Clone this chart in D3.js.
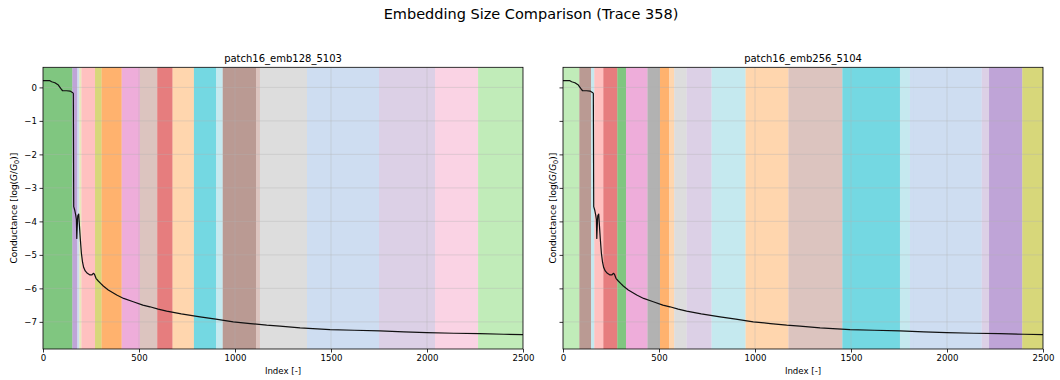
<!DOCTYPE html>
<html><head><meta charset="utf-8">
<script src="https://cdn.jsdelivr.net/npm/d3@7"></script>
<style>body{margin:0;background:#fff}svg{display:block;font-family:"DejaVu Sans",sans-serif}</style>
</head><body><svg id="chart" width="1060" height="380"></svg>
<script>
// ---------- data ----------
const suptitle = "Embedding Size Comparison (Trace 358)";
const panelTitles = ["patch16_emb128_5103", "patch16_emb256_5104"];
const xTicks = [0, 500, 1000, 1500, 2000, 2500];
const yTicks = [0, -1, -2, -3, -4, -5, -6, -7];
const traceIdx = [0,36,45,62,80,92,102,123,141,153,158,160,165,170,174,176,178,181,186,189,194,200,206,212,220,231,245,255,262,268,276,288,300,314,340,384,420,470,520,557,600,644,720,818,900,991,1080,1165,1234,1339,1495,1620,1755,1880,1998,2140,2276,2400,2500];
const traceVal = [0.2,0.2,0.17,0.14,0.07,-0.03,-0.1,-0.1,-0.11,-0.15,-0.18,-3.56,-3.66,-3.8,-3.95,-4.51,-4.2,-3.83,-3.78,-4.06,-4.5,-4.95,-5.22,-5.38,-5.48,-5.55,-5.6,-5.6,-5.55,-5.58,-5.7,-5.78,-5.85,-5.93,-6.05,-6.2,-6.3,-6.4,-6.5,-6.55,-6.62,-6.68,-6.76,-6.85,-6.92,-7.0,-7.05,-7.1,-7.13,-7.18,-7.23,-7.25,-7.27,-7.3,-7.32,-7.34,-7.35,-7.37,-7.38];
// segment class bands (start, end, class id)
const leftBandStart = [0,153,179,189,200,271,305,410,505,595,675,786,901,936,1110,1130,1375,1750,2042,2266];
const leftBandEnd   = [153,179,189,200,271,305,410,505,595,675,786,901,936,1110,1130,1375,1750,2042,2266,2500];
const leftBandClass = [4,8,1,17,7,16,2,12,11,6,3,18,19,10,11,15,1,9,13,5];
const rightBandStart = [0,85,146,163,210,283,328,440,505,553,579,644,774,951,1174,1455,1755,1807,1828,2181,2219,2392];
const rightBandEnd   = [85,146,163,210,283,328,440,505,553,579,644,774,951,1174,1455,1755,1807,1828,2181,2219,2392,2500];
const rightBandClass = [5,10,19,7,6,4,12,14,2,3,15,9,19,3,11,18,19,1,1,9,8,16];
const classColors = ["#1f77b4","#aec7e8","#ff7f0e","#ffbb78","#2ca02c","#98df8a","#d62728","#ff9896","#9467bd","#c5b0d5","#8c564b","#c49c94","#e377c2","#f7b6d2","#7f7f7f","#c7c7c7","#bcbd22","#dbdb8d","#17becf","#9edae5"];

// ---------- drawing ----------
const svg = d3.select("#chart");
const trace = traceIdx.map((x, i) => ({x, y: traceVal[i]}));
const panels = [
  {left: 43, title: panelTitles[0], bands: leftBandStart.map((s,i)=>({s, e: leftBandEnd[i], c: leftBandClass[i]})), showY: true, labelOff: 29},
  {left: 563, title: panelTitles[1], bands: rightBandStart.map((s,i)=>({s, e: rightBandEnd[i], c: rightBandClass[i]})), showY: false, labelOff: 10}
];
const plotTop = 67.3, plotBottom = 349, pw = 480;

svg.append("text").attr("x", 531).attr("y", 19).attr("text-anchor","middle")
  .attr("font-size", 14.5).attr("fill","#000").text(suptitle);

panels.forEach((p, pi) => {
  const x = d3.scaleLinear().domain([0, 2500]).range([p.left, p.left + pw]);
  const y = d3.scaleLinear().domain([-7.81, 0.6]).range([plotBottom, plotTop]);
  const g = svg.append("g");
  const cid = "clip" + pi;
  svg.append("clipPath").attr("id", cid).append("rect")
    .attr("x", p.left).attr("y", plotTop).attr("width", pw).attr("height", plotBottom - plotTop);
  const inner = g.append("g").attr("clip-path", `url(#${cid})`);
  inner.selectAll("rect.band").data(p.bands).join("rect").attr("class","band")
    .attr("x", d => x(d.s)).attr("width", d => x(d.e) - x(d.s))
    .attr("y", plotTop).attr("height", plotBottom - plotTop)
    .attr("fill", d => classColors[d.c]).attr("fill-opacity", 0.6);
  // grid
  inner.selectAll("line.gx").data(xTicks).join("line").attr("class","gx")
    .attr("x1", d => x(d)).attr("x2", d => x(d)).attr("y1", plotTop).attr("y2", plotBottom)
    .attr("stroke", "#b0b0b0").attr("stroke-opacity", 0.45).attr("stroke-width", 0.8);
  inner.selectAll("line.gy").data(yTicks).join("line").attr("class","gy")
    .attr("y1", d => y(d)).attr("y2", d => y(d)).attr("x1", p.left).attr("x2", p.left + pw)
    .attr("stroke", "#b0b0b0").attr("stroke-opacity", 0.45).attr("stroke-width", 0.8);
  // trace
  inner.append("path").datum(trace)
    .attr("d", d3.line().x(d => x(d.x)).y(d => y(d.y)))
    .attr("fill","none").attr("stroke","#111").attr("stroke-width", 1.2).attr("stroke-linejoin","round");
  // axes
  const xa = g.append("g").attr("transform", `translate(0,${plotBottom})`)
    .call(d3.axisBottom(x).tickValues(xTicks).tickFormat(d3.format("d")).tickSize(3.5).tickPadding(2.5));
  const ya = g.append("g").attr("transform", `translate(${p.left},0)`)
    .call(d3.axisLeft(y).tickValues(yTicks).tickSize(3.5).tickPadding(2.5)
      .tickFormat(p.showY ? (d => d < 0 ? "\u2212" + Math.abs(d) : String(d)) : ""));
  [xa, ya].forEach(a => {
    a.select(".domain").remove();
    a.selectAll("text").attr("font-size", 8.6).attr("fill","#000").attr("font-family","DejaVu Sans");
    a.selectAll("line").attr("stroke","#000").attr("stroke-width",0.8);
  });
  g.append("rect").attr("x", p.left).attr("y", plotTop).attr("width", pw).attr("height", plotBottom - plotTop)
    .attr("fill","none").attr("stroke","#000").attr("stroke-width",0.8);
  // titles & labels
  g.append("text").attr("x", p.left + pw/2).attr("y", 62).attr("text-anchor","middle")
    .attr("font-size", 10).attr("fill","#000").text(p.title);
  g.append("text").attr("x", p.left + pw/2).attr("y", 374).attr("text-anchor","middle")
    .attr("font-size", 8.6).attr("fill","#000").text("Index [-]");
  const yl = g.append("text").attr("transform", `translate(${p.left - p.labelOff + 3},${(plotTop+plotBottom)/2}) rotate(-90)`)
    .attr("text-anchor","middle").attr("font-size", 9).attr("fill","#000");
  yl.append("tspan").text("Conductance [log(");
  yl.append("tspan").attr("font-style","italic").text("G");
  yl.append("tspan").text("/");
  yl.append("tspan").attr("font-style","italic").text("G");
  yl.append("tspan").attr("font-size", 6.5).attr("dy", 2).text("0");
  yl.append("tspan").attr("dy", -2).text(")]");
});
</script></body></html>
